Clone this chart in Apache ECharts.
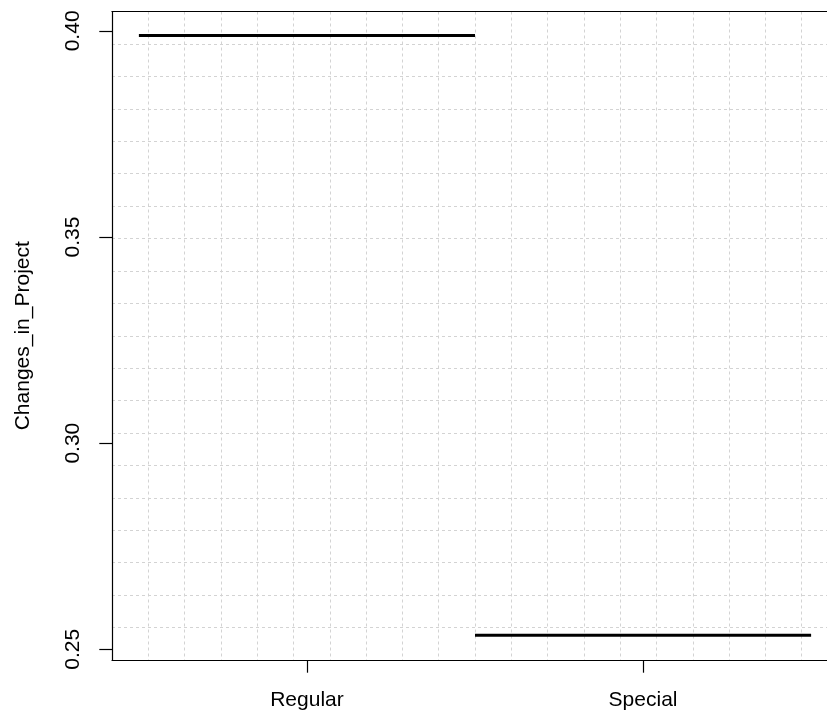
<!DOCTYPE html>
<html>
<head>
<meta charset="utf-8">
<title>Changes_in_Project</title>
<script src="https://cdn.jsdelivr.net/npm/echarts@6/dist/echarts.min.js"></script>
<style>
  html, body { margin: 0; padding: 0; background: #fff; overflow: hidden; }
  #chart { width: 840px; height: 716px; }
</style>
</head>
<body>
<div id="chart"></div>
<script>
// Mean of Changes_in_Project per group, each drawn as a level segment
const categories = ['Regular', 'Special'];
const changesInProject = [0.3989, 0.2534];
const yTicks = [0.25, 0.30, 0.35, 0.40];
const yTickLabels = ['0.25', '0.30', '0.35', '0.40'];

const FONT = "'Liberation Sans', Arial, sans-serif";
const categoryPositions = categories.map((_, i) => i + 1);

// One horizontal segment per group, spanning its slot (position ± 0.5)
const segmentSeries = categories.map((name, i) => ({
  name: name,
  type: 'line',
  xAxisIndex: 0,
  yAxisIndex: 0,
  symbol: 'none',
  silent: true,
  z: 5,
  lineStyle: { color: '#000', width: 3, cap: 'butt' },
  data: [
    [categoryPositions[i] - 0.5, changesInProject[i]],
    [categoryPositions[i] + 0.5, changesInProject[i]]
  ]
}));

const gridLine = { show: true, lineStyle: { color: '#d3d3d3', width: 1, type: [3, 3] } };

const chart = echarts.init(document.getElementById('chart'), null, { renderer: 'canvas' });
chart.setOption({
  animation: false,
  backgroundColor: '#fff',
  textStyle: { fontFamily: FONT },
  grid: { left: 112, top: 11.5, right: 2, bottom: 56, containLabel: false },
  xAxis: [
    {
      type: 'value',
      min: 0.42,
      max: 2.58,
      position: 'bottom',
      axisLine: { show: true, onZero: false, lineStyle: { color: '#000', width: 1.2 } },
      axisTick: { show: true, length: 12.7, customValues: categoryPositions, lineStyle: { color: '#000', width: 1.2 } },
      axisLabel: {
        show: true,
        customValues: categoryPositions,
        margin: 30,
        fontSize: 21,
        color: '#000',
        fontFamily: FONT,
        formatter: v => categories[Math.round(v) - 1] || ''
      },
      splitLine: { show: false }
    },
    {
      // evenly spaced reference grid, 20 divisions across
      type: 'value',
      min: 0,
      max: 20,
      interval: 1,
      position: 'top',
      axisLine: { show: true, onZero: false, lineStyle: { color: '#000', width: 1.2 } },
      axisTick: { show: false },
      axisLabel: { show: false },
      splitLine: gridLine
    }
  ],
  yAxis: [
    {
      type: 'value',
      min: 0.2474,
      max: 0.4047,
      position: 'left',
      name: 'Changes_in_Project',
      nameLocation: 'middle',
      nameGap: 78,
      nameRotate: 90,
      nameTextStyle: { fontSize: 21, color: '#000', fontFamily: FONT },
      axisLine: { show: true, onZero: false, lineStyle: { color: '#000', width: 1.2 } },
      axisTick: { show: true, length: 12.7, customValues: yTicks, lineStyle: { color: '#000', width: 1.2 } },
      axisLabel: {
        show: true,
        customValues: yTicks,
        rotate: 90,
        margin: 28,
        fontSize: 21,
        color: '#000',
        fontFamily: FONT,
        formatter: v => {
          const k = yTicks.findIndex(t => Math.abs(t - v) < 1e-9);
          return k >= 0 ? yTickLabels[k] : '';
        }
      },
      splitLine: { show: false }
    },
    {
      // evenly spaced reference grid, 20 divisions down
      type: 'value',
      min: 0,
      max: 20,
      interval: 1,
      position: 'right',
      axisLine: { show: true, onZero: false, lineStyle: { color: '#000', width: 1.2 } },
      axisTick: { show: false },
      axisLabel: { show: false },
      splitLine: gridLine
    }
  ],
  series: segmentSeries
});
</script>
</body>
</html>
